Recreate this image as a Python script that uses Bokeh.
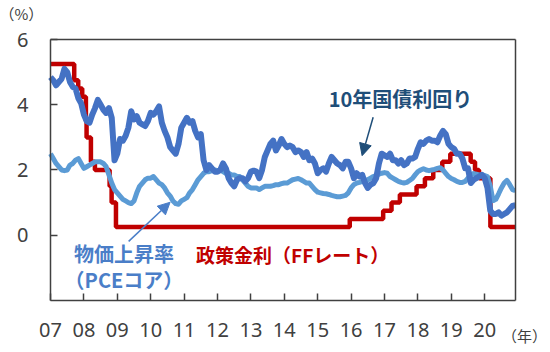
from bokeh.plotting import figure
from bokeh.models import Range1d, FixedTicker, Label, Arrow, NormalHead, LinearAxis
from bokeh.embed import file_html
from bokeh.resources import INLINE

# ---------------- data ----------------
YEAR_TICKS = list(range(2007, 2021))
TICK_LABELS = ["07", "08", "09", "10", "11", "12", "13", "14", "15", "16", "17", "18", "19", "20"]
Y_TICKS = [0, 2, 4, 6]
START_YEAR = 2007

# US 10-year Treasury yield (%), monthly Jan 2007 - Dec 2020
ust10 = [
    4.85, 4.75, 4.60, 4.70, 4.80, 5.10, 5.00, 4.70, 4.55, 4.50, 4.20, 4.05,
    3.70, 3.50, 3.45, 3.70, 3.90, 4.15, 4.00, 3.85, 3.75, 3.90, 3.60, 2.30,
    2.50, 2.95, 2.90, 3.05, 3.30, 3.80, 3.55, 3.65, 3.45, 3.40, 3.35, 3.50,
    3.75, 3.70, 3.80, 3.95, 3.45, 3.20, 3.00, 2.70, 2.60, 2.50, 2.80, 3.30,
    3.45, 3.60, 3.45, 3.50, 3.20, 3.00, 3.10, 2.30, 2.00, 2.15, 2.05, 1.95,
    1.95, 2.00, 2.20, 2.05, 1.75, 1.60, 1.50, 1.70, 1.75, 1.75, 1.65, 1.75,
    1.95, 1.98, 1.95, 1.75, 2.00, 2.40, 2.60, 2.80, 2.90, 2.60, 2.75, 2.95,
    2.80, 2.70, 2.75, 2.70, 2.55, 2.60, 2.55, 2.40, 2.55, 2.30, 2.35, 2.20,
    1.90, 2.00, 2.05, 1.95, 2.20, 2.40, 2.30, 2.20, 2.15, 2.05, 2.25, 2.25,
    2.05, 1.75, 1.90, 1.80, 1.85, 1.60, 1.45, 1.55, 1.60, 1.75, 2.20, 2.50,
    2.45, 2.40, 2.50, 2.30, 2.30, 2.20, 2.30, 2.15, 2.20, 2.35, 2.35, 2.40,
    2.65, 2.85, 2.80, 2.90, 2.95, 2.90, 2.90, 2.85, 3.05, 3.20, 3.10, 2.80,
    2.70, 2.65, 2.50, 2.50, 2.35, 2.05, 2.05, 1.60, 1.70, 1.75, 1.80, 1.85,
    1.75, 1.45, 0.75, 0.65, 0.65, 0.70, 0.60, 0.65, 0.70, 0.80, 0.90, 0.92,
]

# Core PCE inflation (% y/y), monthly Jan 2007 - Dec 2020
pce_core = [
    2.50, 2.35, 2.20, 2.10, 2.00, 1.98, 2.00, 2.15, 2.20, 2.30, 2.35, 2.20,
    2.05, 2.10, 2.15, 2.20, 2.25, 2.25, 2.25, 2.20, 2.10, 1.85, 1.60, 1.40,
    1.30, 1.20, 1.10, 1.05, 1.00, 0.97, 1.05, 1.30, 1.50, 1.60, 1.70, 1.75,
    1.75, 1.80, 1.70, 1.60, 1.55, 1.45, 1.30, 1.20, 1.05, 0.97, 0.95, 1.05,
    1.10, 1.15, 1.30, 1.40, 1.55, 1.70, 1.80, 1.90, 1.95, 1.95, 1.98, 2.00,
    1.98, 2.00, 1.95, 1.90, 1.90, 1.85, 1.85, 1.80, 1.80, 1.70, 1.60, 1.50,
    1.45, 1.45, 1.45, 1.40, 1.45, 1.50, 1.50, 1.50, 1.52, 1.55, 1.55, 1.58,
    1.60, 1.60, 1.65, 1.70, 1.72, 1.74, 1.70, 1.65, 1.60, 1.60, 1.50, 1.40,
    1.32, 1.30, 1.28, 1.27, 1.25, 1.22, 1.20, 1.18, 1.18, 1.20, 1.22, 1.30,
    1.45, 1.55, 1.60, 1.62, 1.65, 1.68, 1.70, 1.75, 1.80, 1.83, 1.87, 1.90,
    1.92, 1.90, 1.80, 1.75, 1.70, 1.65, 1.62, 1.60, 1.62, 1.68, 1.74, 1.85,
    1.95, 2.00, 2.04, 2.00, 1.98, 2.00, 2.02, 2.05, 2.07, 2.00, 1.90, 1.80,
    1.74, 1.70, 1.65, 1.62, 1.62, 1.65, 1.75, 1.85, 1.89, 1.87, 1.85, 1.85,
    1.83, 1.80, 1.50, 1.06, 1.10, 1.27, 1.45, 1.60, 1.68, 1.55, 1.40, 1.37,
]

# Fed funds target (upper bound, %): change dates (decimal year) and levels
ff_dates = [2007.00, 2007.71, 2007.83, 2007.95, 2008.06, 2008.08, 2008.21, 2008.33,
            2008.77, 2008.83, 2008.96, 2015.96, 2016.96, 2017.21, 2017.46, 2017.96,
            2018.21, 2018.46, 2018.73, 2018.97, 2019.58, 2019.71, 2019.83, 2020.17,
            2020.93]
ff_levels = [5.25, 4.75, 4.50, 4.25, 3.50, 3.00, 2.25, 2.00,
             1.50, 1.00, 0.25, 0.50, 0.75, 1.00, 1.25, 1.50,
             1.75, 2.00, 2.25, 2.50, 2.25, 2.00, 1.75, 0.25,
             0.25]

# plotted area (data units)
X_MIN, X_MAX = 2007.0, 2020.93
Y_MIN, Y_MAX = -2.0, 6.0

# ---------------- styles ----------------
C_UST = "#4472C4"
C_PCE = "#5B9BD5"
C_FF = "#C00000"
C_AXIS = "#404040"
C_TEXT = "#404040"
JP_FONT = "Noto Sans CJK JP"

months_ust = [START_YEAR + i / 12 for i in range(len(ust10))]
months_pce = [START_YEAR + i / 12 for i in range(len(pce_core))]

# the frame covers the whole canvas; axes are pinned at the plot box edges
p = figure(width=550, height=352, output_backend="svg", toolbar_location=None,
           x_range=Range1d(2005.503, 2021.97), y_range=Range1d(-3.598, 7.199),
           min_border=0)

p.background_fill_color = "white"
p.border_fill_color = "white"
p.grid.visible = False
p.outline_line_color = None

# main axes
p.xaxis.ticker = FixedTicker(ticks=YEAR_TICKS)
p.xaxis.major_label_overrides = {y: lbl for y, lbl in zip(YEAR_TICKS, TICK_LABELS)}
p.xaxis.fixed_location = Y_MIN
p.xaxis.bounds = (X_MIN, X_MAX)
p.yaxis.ticker = FixedTicker(ticks=Y_TICKS)
p.yaxis.fixed_location = X_MIN
p.yaxis.bounds = (Y_MIN, Y_MAX)
for ax in (p.xaxis, p.yaxis):
    ax.axis_line_color = C_AXIS
    ax.axis_line_width = 1.5
    ax.major_tick_line_color = C_AXIS
    ax.major_tick_line_width = 1.5
    ax.major_tick_in = 7
    ax.major_tick_out = 0
    ax.minor_tick_line_color = None
    ax.major_label_text_font = "Noto Sans"
    ax.major_label_text_font_size = "20px"
    ax.major_label_text_color = C_TEXT
p.xaxis.major_label_standoff = 23
p.yaxis.major_label_standoff = 22

# top and right edges of the plot box
top_ax = LinearAxis(fixed_location=Y_MAX, bounds=(X_MIN, X_MAX), ticker=FixedTicker(ticks=[]),
                    axis_line_color=C_AXIS, axis_line_width=1.5,
                    major_tick_line_color=None, minor_tick_line_color=None,
                    major_label_text_font_size="0px")
right_ax = LinearAxis(fixed_location=X_MAX, bounds=(Y_MIN, Y_MAX), ticker=FixedTicker(ticks=[]),
                      axis_line_color=C_AXIS, axis_line_width=1.5,
                      major_tick_line_color=None, minor_tick_line_color=None,
                      major_label_text_font_size="0px")
p.add_layout(top_ax, "above")
p.add_layout(right_ax, "right")

# series
p.step(ff_dates, ff_levels, mode="after", line_color=C_FF, line_width=4.5)
p.line(months_pce, pce_core, line_color=C_PCE, line_width=5, line_join="round")
p.line(months_ust, ust10, line_color=C_UST, line_width=6, line_join="round")

# unit labels
p.add_layout(Label(x=2006.13, y=6.80, text="（%）", text_font=JP_FONT, text_font_size="15px",
                   text_color=C_TEXT, text_align="center", text_baseline="middle"))
p.add_layout(Label(x=2021.19, y=-3.08, text="（年）", text_font=JP_FONT, text_font_size="15px",
                   text_color=C_TEXT, text_align="center", text_baseline="middle"))

# series annotations
p.add_layout(Label(x=2017.48, y=4.2, text="10年国債利回り", text_font=JP_FONT, text_font_size="20px",
                   text_font_style="bold", text_color="#1F4E79", text_align="center",
                   text_baseline="middle"))
p.add_layout(Arrow(x_start=2016.66, y_start=3.62, x_end=2016.33, y_end=2.44,
                   line_color="#1F4E79", line_width=1.5,
                   end=NormalHead(size=12, fill_color="#1F4E79", line_color="#1F4E79")))

p.add_layout(Label(x=2009.2, y=-0.55, text="物価上昇率", text_font=JP_FONT, text_font_size="20px",
                   text_font_style="bold", text_color="#4A7EC8", text_align="center",
                   text_baseline="middle"))
p.add_layout(Label(x=2009.2, y=-1.35, text="（PCEコア）", text_font=JP_FONT, text_font_size="20px",
                   text_font_style="bold", text_color="#4A7EC8", text_align="center",
                   text_baseline="middle"))
p.add_layout(Arrow(x_start=2009.34, y_start=-0.19, x_end=2010.58, y_end=1.01,
                   line_color="#4A7EC8", line_width=1.5,
                   end=NormalHead(size=12, fill_color="#4A7EC8", line_color="#4A7EC8")))

p.add_layout(Label(x=2014.25, y=-0.6, text="政策金利（FFレート）", text_font=JP_FONT, text_font_size="19px",
                   text_font_style="bold", text_color=C_FF, text_align="center",
                   text_baseline="middle"))

open("out.html", "w").write(file_html(p, INLINE))
